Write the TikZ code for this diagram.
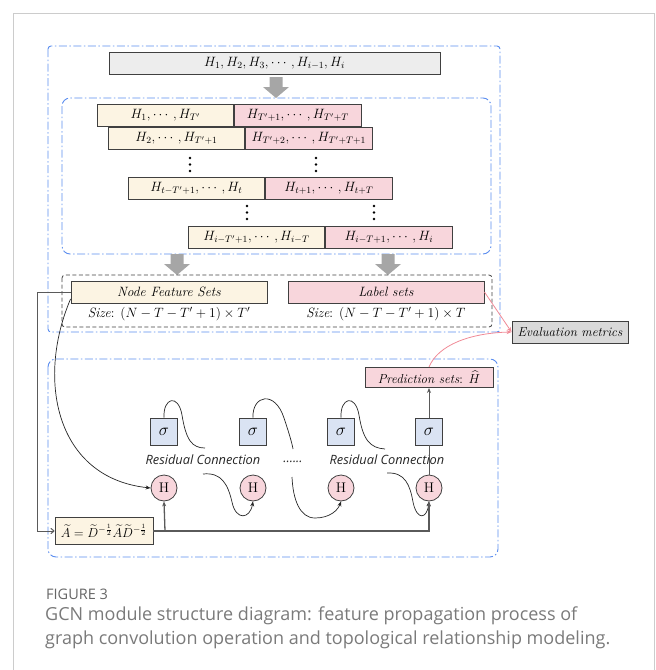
\RequirePackage{fix-cm}
\documentclass[tikz,border=0pt]{standalone}
\usepackage{amsmath}
\usepackage{fontspec}
\newfontfamily\capfont{Open Sans}
\usetikzlibrary{arrows.meta}
\definecolor{bluedash}{HTML}{5B8DEF}
\definecolor{cream}{HTML}{FCF4E3}
\definecolor{pinkf}{HTML}{F8D6DC}
\definecolor{grayf}{HTML}{EDEDED}
\definecolor{evalf}{HTML}{D9D9D9}
\definecolor{sigf}{HTML}{DAE3F3}
\definecolor{bord}{HTML}{404040}
\definecolor{fatgray}{HTML}{A6A6A6}
\definecolor{pinkline}{HTML}{F08A96}
\definecolor{frameg}{HTML}{CCCCCC}
\definecolor{capgray}{HTML}{7A7A7A}
\definecolor{figgray}{HTML}{666666}
\definecolor{linegray}{HTML}{5A5A5A}
\begin{document}
\begin{tikzpicture}[x=1pt,y=-1pt,
  every node/.style={font=\fontsize{13.5}{15}\selectfont},
  blueframe/.style={draw=bluedash, line width=0.9pt, dash pattern=on 8pt off 2.5pt on 1.5pt off 2.5pt},
  box/.style={draw=bord, line width=0.9pt, inner sep=0pt, minimum height=22pt},
  ybox/.style={box, fill=cream, minimum width=136pt},
  pbox/.style={box, fill=pinkf, minimum width=127pt},
  sig/.style={draw=bord, line width=0.8pt, fill=sigf, minimum size=27pt, inner sep=0pt, font=\fontsize{17}{19}\selectfont},
  hcirc/.style={circle, draw=bord, line width=0.8pt, fill=pinkf, minimum size=26pt, inner sep=0pt, font=\fontsize{14}{16}\selectfont},
  rc/.style={font=\capfont\itshape\fontsize{12.8}{14}\selectfont, text=black!85},
  conn/.style={draw=black!85, line width=0.7pt},
  tip/.style={-{Stealth[length=5pt,width=4pt]}},
  pinkarr/.style={draw=pinkline, line width=0.8pt, -{Stealth[length=5pt,width=4pt]}},
  fatarrow/.pic={\fill[fatgray] (-6.5,0) -- (6.5,0) -- (6.5,10) -- (13,10) -- (0,21) -- (-13,10) -- (-6.5,10) -- cycle;},
  dot/.style={circle, fill=black, inner sep=0pt, minimum size=2.8pt}
]
\useasboundingbox (0,0) rectangle (656,670);
% outer frame
\draw[frameg, line width=1pt] (13.5,670) -- (13.5,13.5) -- (654.5,13.5) -- (654.5,670);

% blue frames
\draw[blueframe, rounded corners=3pt] (48,46) rectangle (500,332);
\draw[blueframe, rounded corners=8pt] (62,98) rectangle (491,254);
\draw[blueframe, rounded corners=8pt] (48,359) rectangle (498,557);

% top box
\node[box, fill=grayf, minimum width=331pt] (top) at (274.5,63) {$H_1, H_2, H_3, \cdots, H_{i-1}, H_i$};
\pic at (276,77) {fatarrow};

% rows
\node[ybox, anchor=west] (y1) at (97,115) {$H_1, \cdots, H_{T'}$};
\node[pbox, anchor=west] (p1) at (y1.east) {$H_{T'+1}, \cdots, H_{T'+T}$};
\node[ybox, anchor=west] (y2) at (108,138) {$H_2, \cdots, H_{T'+1}$};
\node[pbox, anchor=west] (p2) at (y2.east) {$H_{T'+2}, \cdots, H_{T'+T+1}$};
\node[ybox, anchor=west] (y3) at (128,188.5) {$H_{t-T'+1}, \cdots, H_t$};
\node[pbox, anchor=west] (p3) at (y3.east) {$H_{t+1}, \cdots, H_{t+T}$};
\node[ybox, anchor=west] (y4) at (188,237) {$H_{i-T'+1}, \cdots, H_{i-T}$};
\node[pbox, anchor=west] (p4) at (y4.east) {$H_{i-T+1}, \cdots, H_i$};

% vertical dots
\foreach \xx/\yy [count=\k] in {190/158, 316/158, 247/206, 374/206} {
  \node[dot] (da\k) at (\xx,\yy) {};
  \node[dot] (db\k) at (\xx,\yy+6.5) {};
  \node[dot] (dc\k) at (\xx,\yy+13) {};
}

\pic at (177,254) {fatarrow};
\pic at (388,254) {fatarrow};

% dashed set frame
\draw[bord, line width=0.8pt, dash pattern=on 4pt off 2.5pt, rounded corners=3pt] (62,275) rectangle (492,327);

\node[box, fill=cream, minimum width=196pt] (nfs) at (169,292) {\textit{Node Feature Sets}};
\node (s1) at (169,314.5) {\textit{Size}: $(N - T - T' + 1) \times T'$};
\node[box, fill=pinkf, minimum width=196pt] (ls) at (386,292) {\textit{Label sets}};
\node (s2) at (386,314.5) {\textit{Size}: $(N - T - T' + 1) \times T$};

\node[box, fill=evalf, minimum width=116pt] (ev) at (570,332) {\fontsize{13}{15}\selectfont\textit{Evaluation metrics}};

% lower part
\node[box, fill=pinkf, minimum width=128pt, minimum height=20pt] (pred) at (429,377.5) {\fontsize{13}{15}\selectfont\textit{Prediction sets}: $\widehat{H}$};

\foreach \xx [count=\k] in {164,253,341,429} {
  \node[sig] (sg\k) at (\xx,431.5) {$\sigma$};
  \node[hcirc] (h\k) at (\xx,488) {H};
}

\node[box, fill=cream, minimum width=98pt, minimum height=27pt] (adj) at (104,531)
  {\fontsize{13}{15}\selectfont$\widetilde{A}=\widetilde{D}^{-\frac{1}{2}}\widetilde{A}\widetilde{D}^{-\frac{1}{2}}$};

\node[rc] (rc1) at (203,460) {Residual Connection};
\node[rc] (rc2) at (387,460) {Residual Connection};
\node[rc] (dd) at (293,462) {......};

% residual curves
\draw[conn] (sg1.north) .. controls (163,398) and (178,393) .. (182,415) .. controls (186,440) and (192,448) .. (205,448);
\coordinate (r1s) at (203,474);
\draw[conn, tip] (r1s) .. controls (222,472) and (228,485) .. (232,502) .. controls (236,521) and (250,519) .. (h2.south);
\draw[conn] (sg2.north) .. controls (252,395) and (275,390) .. (284,418) .. controls (289,433) and (292,443) .. (293,449);
\coordinate (r2s) at (292,477);
\draw[conn, tip] (r2s) .. controls (293,500) and (300,518) .. (315,518) .. controls (330,518) and (338,510) .. (h3.south);
\draw[conn] (sg3.north) .. controls (340,398) and (355,393) .. (359,415) .. controls (363,440) and (370,448) .. (385,449);
\coordinate (r3s) at (387,473);
\draw[conn, tip] (r3s) .. controls (405,472) and (410,485) .. (413,502) .. controls (417,521) and (427,519) .. (h4.south);

% big curve from node feature sets to H1
\draw[conn, tip] ([yshift=-7pt]nfs.west) .. controls (36,380) and (56,478) .. (h1.west);

% left connector
\draw[draw=linegray, line width=1pt, -{To[length=4pt,width=6pt]}] (nfs.west) -- (37,292) -- (37,531) -- (adj.west);

% bottom line
\draw[draw=linegray, line width=1.3pt, -{Stealth[length=5pt,width=4pt]}] (adj.east) -- (429,531) -- (h4.south);
\draw[draw=linegray, line width=1.3pt, -{Stealth[length=5pt,width=4pt]}] (165,531) -- (h1.south);

% vertical to prediction
\draw[draw=linegray, line width=1pt] (h4.north) -- (sg4.south);
\draw[draw=linegray, line width=1pt, -{Stealth[length=5pt,width=4pt]}] (sg4.north) -- (pred.south);

% pink arrows
\draw[pinkarr] (ls.east) -- (ev.west);
\draw[pinkarr] (pred.north) .. controls (438,345) and (470,333) .. (ev.west);

% caption
\node[anchor=base west, inner sep=0pt, text=figgray, font=\capfont\fontsize{14.5}{16}\selectfont] (fig) at (46,599) {FIGURE 3};
\node[anchor=base west, inner sep=0pt, text=capgray, font=\capfont\fontsize{18}{20}\selectfont] (cap1) at (45,620) {GCN module structure diagram: feature propagation process of};
\node[anchor=base west, inner sep=0pt, text=capgray, font=\capfont\fontsize{18}{20}\selectfont] (cap2) at (45,644) {graph convolution operation and topological relationship modeling.};
\end{tikzpicture}
\end{document}
